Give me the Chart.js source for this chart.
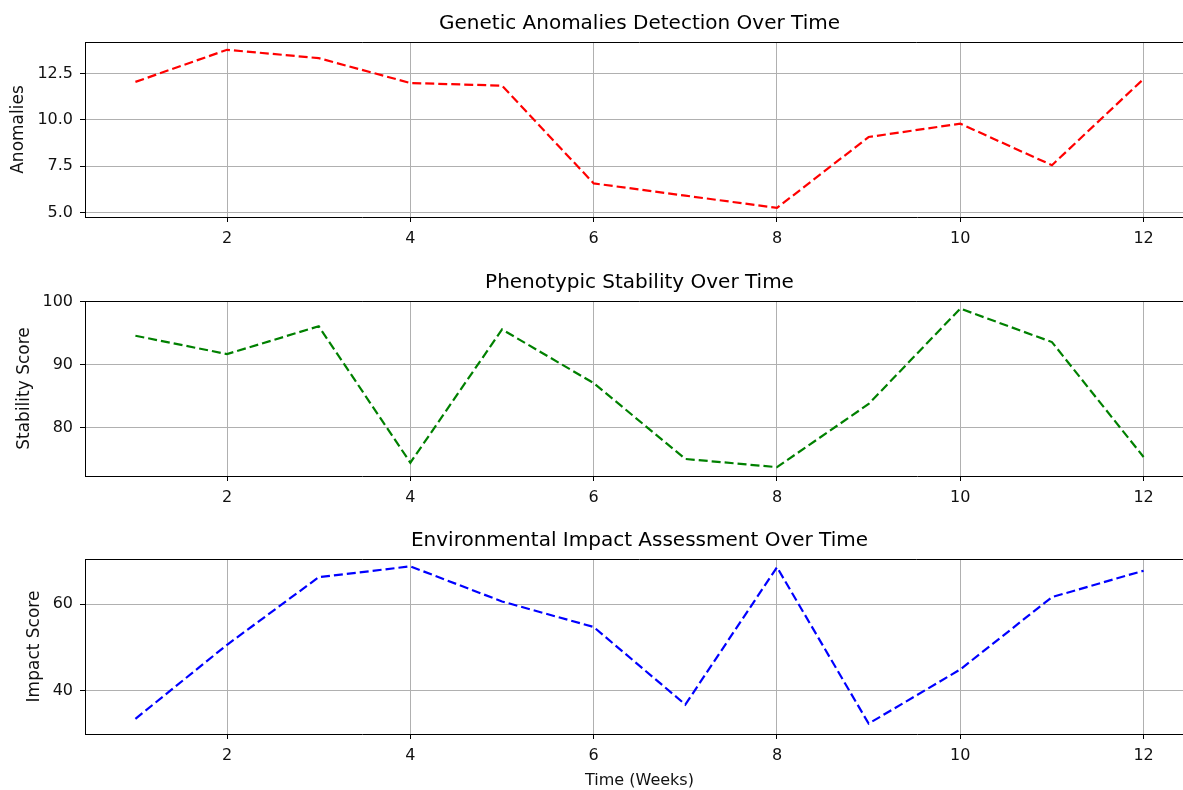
<!DOCTYPE html>
<html>
<head>
<meta charset="utf-8">
<script src="https://cdn.jsdelivr.net/npm/chart.js@4.4.0/dist/chart.umd.min.js"></script>
<style>
  html, body { margin: 0; padding: 0; background: #fff; overflow: hidden; }
  body { width: 1183px; height: 790px; position: relative; }
  .panel { position: absolute; left: 0; width: 1200px; }
</style>
</head>
<body>
<div class="panel" style="top:0px;height:257px"><canvas id="chart1"></canvas></div>
<div class="panel" style="top:259px;height:257px"><canvas id="chart2"></canvas></div>
<div class="panel" style="top:517px;height:273px"><canvas id="chart3"></canvas></div>
<script>
// data
var weeks = [1, 2, 3, 4, 5, 6, 7, 8, 9, 10, 11, 12];
var anomalies = [12.04, 13.77, 13.32, 11.98, 11.84, 6.57, 5.91, 5.25, 9.07, 9.79, 7.55, 12.2];
var stability = [94.6, 91.7, 96.1, 74.5, 95.6, 87.1, 75.1, 73.8, 83.8, 98.9, 93.6, 75.4];
var impact = [33.5, 50.6, 66.2, 68.7, 60.6, 54.7, 36.8, 68.5, 32.4, 44.9, 61.6, 67.7];

var xTicks = [2, 4, 6, 8, 10, 12];
var anomaliesTicks = [5.0, 7.5, 10.0, 12.5];
var stabilityTicks = [80, 90, 100];
var impactTicks = [40, 60];

var FONT = "'DejaVu Sans', sans-serif";

// draws the top/right spines like matplotlib
var frame = {
  id: "frame",
  afterDraw: function (chart) {
    var a = chart.chartArea, ctx = chart.ctx;
    ctx.save();
    ctx.strokeStyle = "#000";
    ctx.lineWidth = 1;
    ctx.beginPath();
    ctx.moveTo(a.left, a.top + 0.5);
    ctx.lineTo(a.right, a.top + 0.5);
    ctx.moveTo(a.right - 0.5, a.top);
    ctx.lineTo(a.right - 0.5, a.bottom);
    ctx.stroke();
    ctx.restore();
  }
};

function makeChart(id, opts) {
  var ctx = document.getElementById(id).getContext("2d");
  return new Chart(ctx, {
    type: "line",
    data: {
      datasets: [
        {
          data: weeks.map(function (w, i) { return { x: w, y: opts.values[i] }; }),
          borderColor: opts.color,
          borderWidth: 2.2,
          borderDash: [9, 4],
          pointRadius: 0,
          tension: 0,
          fill: false,
        },
      ],
    },
    options: {
      responsive: true,
      maintainAspectRatio: false,
      animation: false,
      layout: { padding: { left: 0, right: 6, top: 0, bottom: 0 } },
      plugins: {
        legend: { display: false },
        tooltip: { enabled: false },
        title: {
          display: true,
          fullSize: false, // centre over the plot area, not the canvas
          text: opts.title,
          color: "#000",
          font: { family: FONT, size: 20, weight: "normal" },
          padding: { top: 12, bottom: 6 },
        },
      },
      scales: {
        x: {
          type: "linear",
          min: 0.45,
          max: 12.55,
          afterBuildTicks: function (s) { s.ticks = xTicks.map(function (v) { return { value: v }; }); },
          afterFit: function (s) { s.height = opts.xHeight; },
          grid: { color: "#b0b0b0", lineWidth: 1, tickColor: "#000", tickLength: 5 },
          border: { color: "#000", width: 1 },
          ticks: { color: "#111", padding: 7, font: { family: FONT, size: 16 } },
          title: {
            display: !!opts.xTitle,
            text: opts.xTitle || "",
            color: "#111",
            font: { family: FONT, size: 16 },
            padding: { top: 0, bottom: 0 },
          },
        },
        y: {
          min: opts.min,
          max: opts.max,
          afterBuildTicks: function (s) { s.ticks = opts.ticks.map(function (v) { return { value: v }; }); },
          afterFit: function (s) { s.width = 85; },
          grid: { color: "#b0b0b0", lineWidth: 1, tickColor: "#000", tickLength: 5 },
          border: { color: "#000", width: 1 },
          ticks: {
            color: "#111",
            padding: 7,
            font: { family: FONT, size: 16 },
            callback: opts.fmt,
          },
          title: {
            display: true,
            text: opts.yTitle,
            color: "#111",
            font: { family: FONT, size: 17 },
            padding: { top: opts.yPad, bottom: 0 },
          },
        },
      },
    },
    plugins: [frame],
  });
}

makeChart("chart1", {
  title: "Genetic Anomalies Detection Over Time",
  yTitle: "Anomalies",
  values: anomalies,
  color: "#ff0000",
  min: 4.76,
  max: 14.19,
  ticks: anomaliesTicks,
  fmt: function (v) { return Number(v).toFixed(1); },
  yPad: 8,
  xHeight: 40,
});

makeChart("chart2", {
  title: "Phenotypic Stability Over Time",
  yTitle: "Stability Score",
  values: stability,
  color: "#008000",
  min: 72.4,
  max: 100.1,
  ticks: stabilityTicks,
  fmt: function (v) { return v; },
  yPad: 14,
  xHeight: 40,
});

makeChart("chart3", {
  title: "Environmental Impact Assessment Over Time",
  yTitle: "Impact Score",
  values: impact,
  color: "#0000ff",
  min: 30.0,
  max: 70.4,
  ticks: impactTicks,
  fmt: function (v) { return v; },
  yPad: 24,
  xHeight: 56,
  xTitle: "Time (Weeks)",
});
</script>
</body>
</html>
